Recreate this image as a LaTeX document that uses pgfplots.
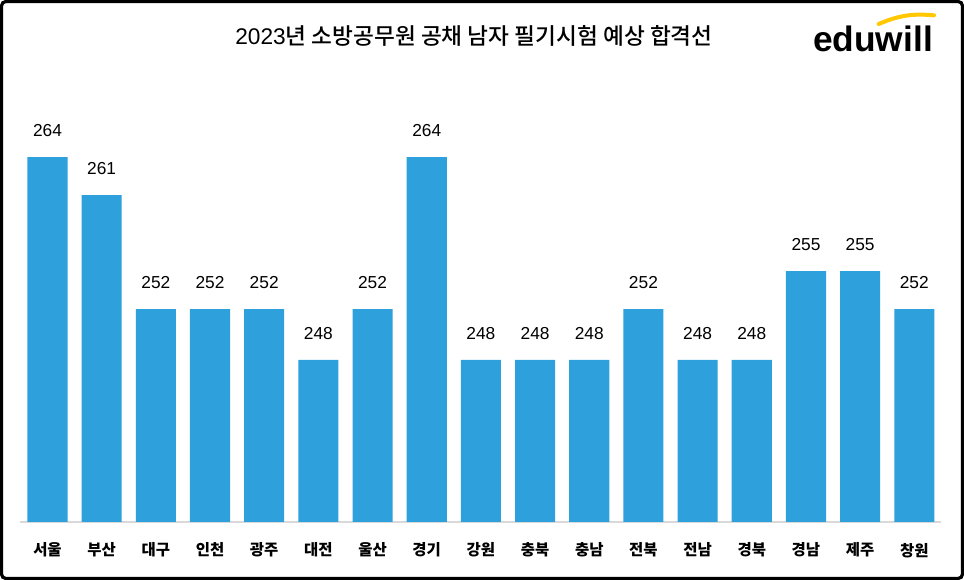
\documentclass[border=0pt]{standalone}
\usepackage{fontspec}
\usepackage{pgfplots}
\pgfplotsset{compat=1.18}
\setmainfont{Liberation Sans}
\newfontfamily\cjk{Noto Sans CJK KR}
\newfontfamily\cjkmed{Noto Sans CJK KR Medium}
\definecolor{barblue}{RGB}{46,160,220}
\definecolor{logoyellow}{RGB}{255,200,0}

\begin{document}
\begin{tikzpicture}
\useasboundingbox (0,0) rectangle (723pt,435pt);
\draw[line width=2.4pt, rounded corners=3pt] (1.2pt,1.2pt) rectangle (721.8pt,433.8pt);

% title and logo
\node[anchor=center] at (355.5pt,408pt)
  {\fontsize{17}{20}\selectfont 2023{\cjkmed 년 소방공무원 공채 남자 필기시험 예상 합격선}};
\node[anchor=base, inner sep=0pt] at (654.75pt,396pt)
  {\fontsize{26.5}{30}\selectfont\bfseries eduwill};
\draw[logoyellow, line width=3pt, line cap=round] (659pt,417pt) to[bend left=14] (700.5pt,423.5pt);

\begin{axis}[
    at={(15.3pt,43.5pt)}, anchor=south west,
    scale only axis,
    width=690.75pt, height=316.5pt,
    ybar, bar width=0.74,
    xmin=-0.5, xmax=16.5,
    ymin=235.2, ymax=268.5,
    hide y axis,
    axis x line*=bottom,
    x axis line style={-, draw=black!15, line width=1.2pt},
    xtick=data,
    xticklabels={서울,부산,대구,인천,광주,대전,울산,경기,강원,충북,충남,전북,전남,경북,경남,제주,창원},
    major tick length=0pt,
    xticklabel style={font=\cjk\bfseries\fontsize{11.6}{13}\selectfont, anchor=north, inner sep=0pt, yshift=-15.5pt},
    nodes near coords,
    every node near coord/.append style={font=\fontsize{13}{15}\selectfont, anchor=south, inner sep=0pt, yshift=15pt, black,
      /pgf/number format/assume math mode=true},
]
\addplot[fill=barblue, draw=none] coordinates {
(0,264) (1,261) (2,252) (3,252) (4,252) (5,248) (6,252) (7,264) (8,248)
(9,248) (10,248) (11,252) (12,248) (13,248) (14,255) (15,255) (16,252)
};
\end{axis}
\end{tikzpicture}
\end{document}
